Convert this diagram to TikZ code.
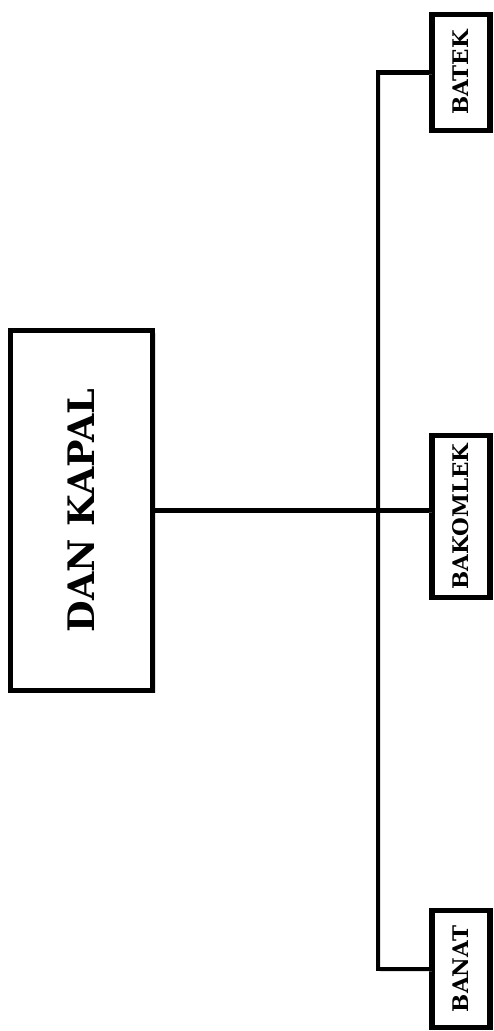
\documentclass[tikz,border=0pt]{standalone}
\usepackage{fontspec}
\setmainfont{DejaVu Serif}[BoldFont={DejaVu Serif Bold}]
\usetikzlibrary{shadows}
\begin{document}
\begin{tikzpicture}[x=1pt,y=1pt,
  box/.style={draw=black, line width=5.5pt, fill=white, inner sep=0pt,
    rotate=90,
    drop shadow={shadow xshift=3pt, shadow yshift=-2pt, opacity=0.25, fill=black!50}},
  conn/.style={draw=black, line width=4.5pt,
    preaction={draw=black!35, opacity=0.35, transform canvas={shift={(2.5pt,-2pt)}}}},
  bigfont/.style={font=\fontsize{36.5}{40}\selectfont\bfseries},
  smallfont/.style={font=\fontsize{21.5}{24}\selectfont\bfseries}]
\useasboundingbox (0,0) rectangle (494,-1031);
\fill[white] (0,0) rectangle (494,-1031);
\coordinate (trunk) at (378,0);
\node[box, bigfont, minimum width=360, minimum height=142] (main) at (81.5,-510.5) {DAN KAPAL};
\node[box, smallfont, minimum width=116, minimum height=58] (batek) at (461,-72.5) {BATEK};
\node[box, smallfont, minimum width=162, minimum height=58] (bak) at (461,-516.5) {BAKOMLEK};
\node[box, smallfont, minimum width=117, minimum height=58] (banat) at (461,-969) {BANAT};
\draw[conn] (batek.north) -- (batek.north -| trunk) -- (banat.north -| trunk) -- (banat.north);
\draw[conn] (main.south) -- (main.south -| bak.north);
\end{tikzpicture}
\end{document}
